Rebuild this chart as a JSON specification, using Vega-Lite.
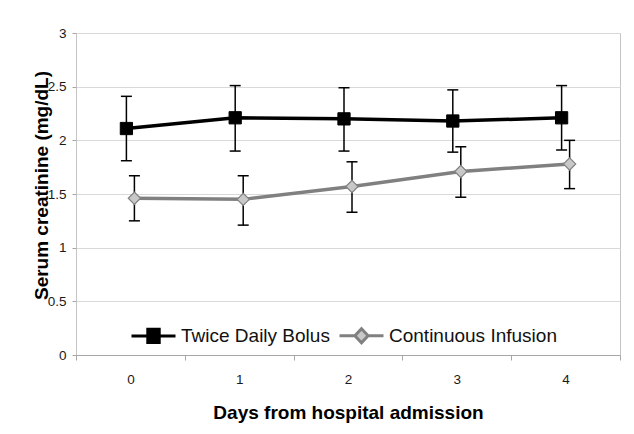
{
  "$schema": "https://vega.github.io/schema/vega-lite/v6.json",
  "width": 544,
  "height": 322,
  "autosize": {"type": "none"},
  "padding": {"left": 76, "top": 33, "right": 14, "bottom": 79},
  "background": "white",
  "config": {
    "font": "Liberation Sans",
    "view": {"stroke": "#c4c4c4", "strokeWidth": 1},
    "axis": {
      "labelFont": "Liberation Sans",
      "titleFont": "Liberation Sans",
      "labelFontSize": 13.5,
      "labelColor": "#1a1a1a",
      "titleFontSize": 19,
      "titleFontWeight": "bold",
      "titleColor": "#000000",
      "tickColor": "#a6a6a6",
      "domainColor": "#a6a6a6",
      "gridColor": "#d9d9d9"
    }
  },
  "data": {
    "values": [
      {"day": "0", "series": "Twice Daily Bolus", "mean": 2.11, "lo": 1.81, "hi": 2.41},
      {"day": "1", "series": "Twice Daily Bolus", "mean": 2.21, "lo": 1.9, "hi": 2.51},
      {"day": "2", "series": "Twice Daily Bolus", "mean": 2.2, "lo": 1.9, "hi": 2.49},
      {"day": "3", "series": "Twice Daily Bolus", "mean": 2.18, "lo": 1.89, "hi": 2.47},
      {"day": "4", "series": "Twice Daily Bolus", "mean": 2.21, "lo": 1.91, "hi": 2.51},
      {"day": "0", "series": "Continuous Infusion", "mean": 1.46, "lo": 1.25, "hi": 1.67},
      {"day": "1", "series": "Continuous Infusion", "mean": 1.45, "lo": 1.21, "hi": 1.67},
      {"day": "2", "series": "Continuous Infusion", "mean": 1.57, "lo": 1.33, "hi": 1.8},
      {"day": "3", "series": "Continuous Infusion", "mean": 1.71, "lo": 1.47, "hi": 1.94},
      {"day": "4", "series": "Continuous Infusion", "mean": 1.78, "lo": 1.55, "hi": 2.0}
    ]
  },
  "encoding": {
    "x": {
      "field": "day",
      "type": "ordinal",
      "scale": {"type": "band", "paddingInner": 0, "paddingOuter": 0},
      "axis": {
        "title": "Days from hospital admission",
        "labelAngle": 0,
        "tickBand": "extent",
        "tickSize": 5,
        "labelPadding": 12,
        "titlePadding": 18,
        "grid": false
      }
    }
  },
  "layer": [
    {
      "transform": [{"filter": "datum.series === 'Twice Daily Bolus'"}],
      "mark": {"type": "rule", "xOffset": -4, "color": "#000000", "strokeWidth": 1.5},
      "encoding": {
        "y": {
          "field": "lo",
          "type": "quantitative",
          "scale": {"domain": [0, 3]},
          "axis": {
            "title": "Serum creatinine (mg/dL)",
            "values": [0, 0.5, 1, 1.5, 2, 2.5, 3],
            "format": ".1~f",
            "tickSize": 4,
            "labelPadding": 6,
            "titlePadding": -4,
            "titleY": 152,
            "domain": false
          }
        },
        "y2": {"field": "hi"}
      }
    },
    {
      "transform": [{"filter": "datum.series === 'Twice Daily Bolus'"}],
      "mark": {"type": "tick", "xOffset": -4, "color": "#000000", "thickness": 1.5, "size": 11, "opacity": 1},
      "encoding": {"y": {"field": "lo", "type": "quantitative"}}
    },
    {
      "transform": [{"filter": "datum.series === 'Twice Daily Bolus'"}],
      "mark": {"type": "tick", "xOffset": -4, "color": "#000000", "thickness": 1.5, "size": 11, "opacity": 1},
      "encoding": {"y": {"field": "hi", "type": "quantitative"}}
    },
    {
      "transform": [{"filter": "datum.series === 'Twice Daily Bolus'"}],
      "mark": {"type": "line", "xOffset": -4, "strokeWidth": 3.5},
      "encoding": {
        "y": {"field": "mean", "type": "quantitative"},
        "stroke": {
          "field": "series",
          "type": "nominal",
          "scale": {"domain": ["Twice Daily Bolus", "Continuous Infusion"], "range": ["#000000", "#808080"]},
          "legend": {
            "title": null,
            "orient": "none",
            "legendX": 54,
            "legendY": 279,
            "direction": "horizontal",
            "symbolSize": 1936,
            "symbolStrokeWidth": 3,
            "labelFontSize": 19,
            "labelFont": "Liberation Sans",
            "labelColor": "#111111",
            "labelLimit": 0,
            "labelOffset": 4,
            "columnPadding": 3,
            "encode": {
              "symbols": {
                "update": {
                  "shape": {"signal": "datum.value === 'Twice Daily Bolus' ? 'M-1,0H1M-0.26,-0.3H0.26V0.3H-0.26Z' : 'M-1,0H-0.3M0.3,0H1M0,-0.32L0.3,0L0,0.32L-0.3,0Z'"},
                  "fill": {"signal": "datum.value === 'Twice Daily Bolus' ? '#000000' : '#c8c8c8'"},
                  "strokeWidth": {"value": 3},
                  "size": {"value": 1936},
                  "opacity": {"value": 1}
                }
              }
            }
          }
        }
      }
    },
    {
      "transform": [{"filter": "datum.series === 'Twice Daily Bolus'"}],
      "mark": {"type": "point", "shape": "square", "filled": true, "size": 150, "xOffset": -4, "opacity": 1, "strokeWidth": 1},
      "encoding": {
        "y": {"field": "mean", "type": "quantitative"},
        "fill": {"field": "series", "type": "nominal", "scale": {"domain": ["Twice Daily Bolus", "Continuous Infusion"], "range": ["#000000", "#c8c8c8"]}, "legend": null},
        "stroke": {"field": "series", "type": "nominal"}
      }
    },
    {
      "transform": [{"filter": "datum.series === 'Continuous Infusion'"}],
      "mark": {"type": "rule", "xOffset": 4, "color": "#000000", "strokeWidth": 1.5},
      "encoding": {
        "y": {"field": "lo", "type": "quantitative"},
        "y2": {"field": "hi"}
      }
    },
    {
      "transform": [{"filter": "datum.series === 'Continuous Infusion'"}],
      "mark": {"type": "tick", "xOffset": 4, "color": "#000000", "thickness": 1.5, "size": 11, "opacity": 1},
      "encoding": {"y": {"field": "lo", "type": "quantitative"}}
    },
    {
      "transform": [{"filter": "datum.series === 'Continuous Infusion'"}],
      "mark": {"type": "tick", "xOffset": 4, "color": "#000000", "thickness": 1.5, "size": 11, "opacity": 1},
      "encoding": {"y": {"field": "hi", "type": "quantitative"}}
    },
    {
      "transform": [{"filter": "datum.series === 'Continuous Infusion'"}],
      "mark": {"type": "line", "xOffset": 4, "strokeWidth": 3.5},
      "encoding": {
        "y": {"field": "mean", "type": "quantitative"},
        "stroke": {"field": "series", "type": "nominal"}
      }
    },
    {
      "transform": [{"filter": "datum.series === 'Continuous Infusion'"}],
      "mark": {"type": "point", "shape": "diamond", "filled": true, "size": 150, "xOffset": 4, "opacity": 1, "strokeWidth": 1.2},
      "encoding": {
        "y": {"field": "mean", "type": "quantitative"},
        "fill": {"field": "series", "type": "nominal"},
        "stroke": {"field": "series", "type": "nominal"}
      }
    }
  ]
}
